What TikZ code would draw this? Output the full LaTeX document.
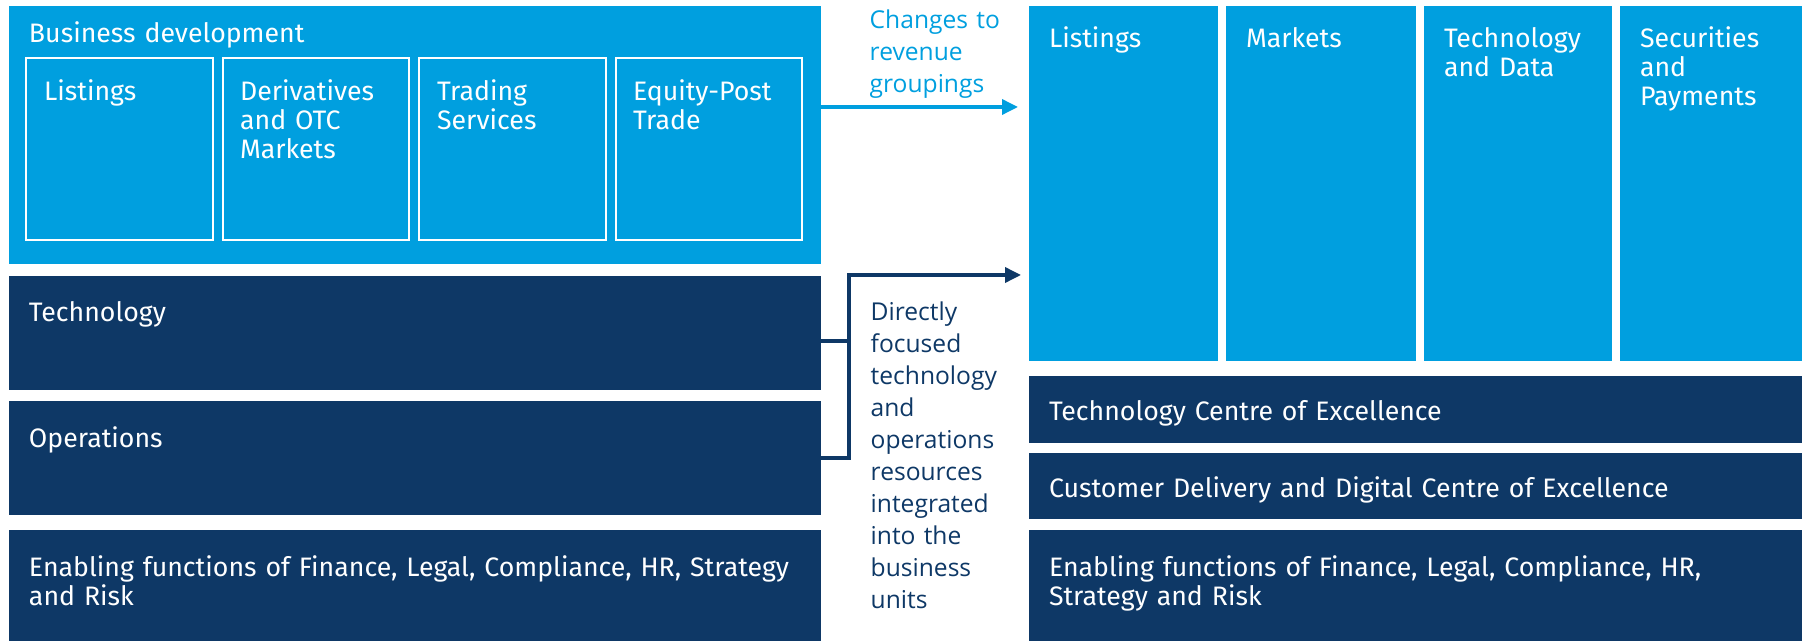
\documentclass[tikz,border=0pt]{standalone}
\usepackage{fontspec}
\setmainfont{Fira Sans}
\newfontfamily\notefont{Open Sans}
\usetikzlibrary{arrows.meta, positioning, fit}
\definecolor{lsegblue}{RGB}{0,159,223}
\definecolor{lsegnavy}{RGB}{14,56,102}

\begin{document}
\begin{tikzpicture}[
  x=0.02cm, y=-0.02cm,
  lightbox/.style = {fill=lsegblue, inner sep=0pt},
  darkbox/.style = {fill=lsegnavy, inner sep=0pt},
  unitbox/.style = {draw=white, line width=0.05cm, inner sep=0pt},
  boxtext/.style = {anchor=base west, inner sep=0pt, text=white, text width=16cm, align=left, font=\fontsize{15.2}{16.4}\selectfont},
  note/.style = {anchor=base west, inner sep=0pt, text width=3cm, align=left, font=\notefont\fontsize{14}{18.2}\selectfont},
  link/.style = {line width=0.07cm},
  line/.style = {link, -{Triangle[length=0.32cm, width=0.3cm]}}
]
  \useasboundingbox (0,0) rectangle (1802,641);

  % Current structure
  \node[lightbox, fit={(9,6) (821,264)}] (bizdev) {};
  \node[unitbox, fit={(26,58) (213,240)}] (oldlistings) {};
  \node[unitbox, fit={(223,58) (409,240)}] (derivatives) {};
  \node[unitbox, fit={(419,58) (606,240)}] (trading) {};
  \node[unitbox, fit={(616,58) (802,240)}] (posttrade) {};
  \node[darkbox, fit={(9,276) (821,390)}] (tech) {};
  \node[darkbox, fit={(9,401) (821,515)}] (ops) {};
  \node[darkbox, fit={(9,530) (821,641)}] (oldenabling) {};

  \node[boxtext] at ([shift={(20,37)}]bizdev.north west) {Business development};
  \node[boxtext] at ([shift={(19,44)}]oldlistings.north west) {Listings};
  \node[boxtext] at ([shift={(18,44)}]derivatives.north west) {Derivatives\\and OTC\\Markets};
  \node[boxtext] at ([shift={(19,44)}]trading.north west) {Trading\\Services};
  \node[boxtext] at ([shift={(18,44)}]posttrade.north west) {Equity-Post\\Trade};
  \node[boxtext] at ([shift={(20,46)}]tech.north west) {Technology};
  \node[boxtext] at ([shift={(20,47)}]ops.north west) {Operations};
  \node[boxtext] at ([shift={(20,47)}]oldenabling.north west) {Enabling functions of Finance, Legal, Compliance, HR, Strategy\\and Risk};

  % New structure
  \node[lightbox, fit={(1029,6) (1218,361)}] (listings) {};
  \node[lightbox, fit={(1226,6) (1416,361)}] (markets) {};
  \node[lightbox, fit={(1424,6) (1612,361)}] (techdata) {};
  \node[lightbox, fit={(1620,6) (1802,361)}] (secpay) {};
  \node[darkbox, fit={(1029,376) (1802,443)}] (techcoe) {};
  \node[darkbox, fit={(1029,453) (1802,519)}] (custcoe) {};
  \node[darkbox, fit={(1029,530) (1802,641)}] (enabling) {};

  \node[boxtext] at ([shift={(20,42)}]listings.north west) {Listings};
  \node[boxtext] at ([shift={(20,42)}]markets.north west) {Markets};
  \node[boxtext] at ([shift={(20,42)}]techdata.north west) {Technology\\and Data};
  \node[boxtext] at ([shift={(20,42)}]secpay.north west) {Securities\\and\\Payments};
  \node[boxtext] at ([shift={(20,45)}]techcoe.north west) {Technology Centre of Excellence};
  \node[boxtext] at ([shift={(20,45)}]custcoe.north west) {Customer Delivery and Digital Centre of Excellence};
  \node[boxtext] at ([shift={(20,47)}]enabling.north west) {Enabling functions of Finance, Legal, Compliance, HR,\\Strategy and Risk};

  % Notes
  \node[note, text=lsegblue] (revnote) at ([shift={(48,23)}]bizdev.north east) {Changes to\\revenue\\groupings};
  \node[note, text=lsegnavy] (resnote) at ([shift={(49,45)}]tech.north east) {Directly\\focused\\technology\\and\\operations\\resources\\integrated\\into the\\business\\units};

  % Connections
  \coordinate (revtip) at (1018,107);
  \coordinate (restip) at (1021,275);
  \coordinate (bend) at (849,341);
  \draw[line, draw=lsegblue] (bizdev.east |- revtip) -- (revtip);
  \draw[line, draw=lsegnavy] (tech.east |- bend) -- (bend) |- (restip);
  \draw[link, draw=lsegnavy] (ops.east) -| (bend);

\end{tikzpicture}
\end{document}
